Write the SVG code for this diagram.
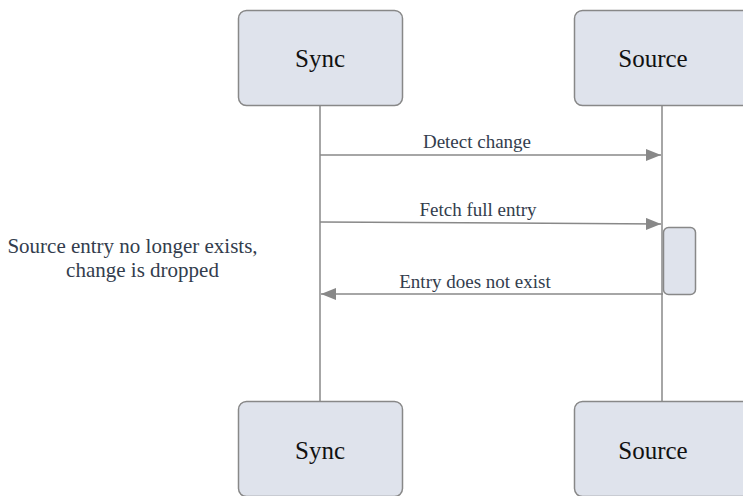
<svg xmlns="http://www.w3.org/2000/svg" width="743" height="496" viewBox="0 0 743 496">
<style>
.actor{fill:#dfe3ec;stroke:#888;stroke-width:1.5}
.atext{font-family:"Liberation Serif","Times New Roman",serif;font-size:25px;fill:#111;text-anchor:middle}
.life{stroke:#888;stroke-width:1.5;fill:none}
.msg{stroke:#888;stroke-width:1.5;fill:none}
.mtext{font-family:"Liberation Serif","Times New Roman",serif;font-size:19px;fill:#333d4d;text-anchor:middle}
.note{font-family:"Liberation Serif","Times New Roman",serif;font-size:21px;fill:#333d4d;text-anchor:middle}
</style>
<defs>
<marker id="arr" viewBox="0 0 15 12" refX="15" refY="6" markerWidth="15" markerHeight="12" markerUnits="userSpaceOnUse" orient="auto">
<path d="M0,0 L15,6 L0,12 Z" fill="#888"/>
</marker>
</defs>
<g id="lifelines">
<line class="life" x1="320" y1="106" x2="320" y2="402"/>
<line class="life" x1="662" y1="106" x2="662" y2="402"/>
</g>
<g id="sync-top"><rect class="actor" x="238.5" y="10.5" width="164" height="95" rx="8"/><text class="atext" x="320" y="67">Sync</text></g>
<g id="source-top"><rect class="actor" x="574.5" y="10.5" width="176" height="95" rx="8"/><text class="atext" x="653" y="67">Source</text></g>
<g id="sync-bottom"><rect class="actor" x="238.5" y="401.5" width="164" height="95" rx="8"/><text class="atext" x="320" y="459">Sync</text></g>
<g id="source-bottom"><rect class="actor" x="574.5" y="401.5" width="176" height="95" rx="8"/><text class="atext" x="653" y="459">Source</text></g>
<g id="activation"><rect class="actor" x="663.5" y="227.5" width="32" height="67" rx="5"/></g>
<g id="connectors">
<line class="msg" x1="320" y1="155" x2="661" y2="155" marker-end="url(#arr)"/>
<line class="msg" x1="320" y1="222" x2="661" y2="224" marker-end="url(#arr)"/>
<line class="msg" x1="663" y1="294" x2="321" y2="294" marker-end="url(#arr)"/>
</g>
<g id="labels">
<text class="mtext" x="477" y="148">Detect change</text>
<text class="mtext" x="478" y="216">Fetch full entry</text>
<text class="mtext" x="475" y="288">Entry does not exist</text>
</g>
<g id="note">
<text class="note" x="132.5" y="253">Source entry no longer exists,</text>
<text class="note" x="142.5" y="277">change is dropped</text>
</g>
</svg>
